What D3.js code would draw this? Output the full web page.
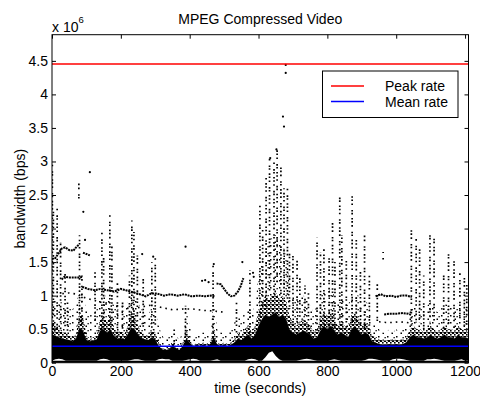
<!DOCTYPE html>
<html><head><meta charset="utf-8">
<script src="https://cdn.jsdelivr.net/npm/d3@7"></script>
<style>
body{margin:0;background:#fff}
svg{display:block}
text{font-family:"Liberation Sans",Arial,Helvetica,sans-serif;fill:#000}
</style>
</head><body><svg id="c" width="480" height="397"></svg>
<script>
// ---------- data (bandwidth in units of 1e6 bps, time in seconds) ----------
const title = "MPEG Compressed Video";
const xLabel = "time (seconds)";
const yLabel = "bandwidth (bps)";
const xTicks = [0, 200, 400, 600, 800, 1000, 1200];
const xTickLabels = ["0", "200", "400", "600", "800", "1000", "1200"];
const yTicks = [0, 0.5, 1, 1.5, 2, 2.5, 3, 3.5, 4, 4.5];
const yTickLabels = ["0", "0.5", "1", "1.5", "2", "2.5", "3", "3.5", "4", "4.5"];
const xDomain = [0, 1210];
const yDomain = [0, 4.89];
const peakRate = 4.455;
const meanRate = 0.247;
const legendLabels = ["Peak rate", "Mean rate"];

// dense band of small frames, sampled every 10 s
const bandStart = 0, bandStep = 10;
const scatterTop = [
 1.0,0.95,0.9,0.9,0.85,0.8,0.8,0.85,1.1,1.0,
 0.8,0.7,0.75,0.8,1.0,1.05,0.95,1.0,0.85,0.8,
 0.8,0.75,0.9,1.0,1.0,0.9,0.8,0.75,0.7,0.85,
 0.8,0.55,0.4,0.35,0.4,0.45,0.4,0.35,0.45,0.8,
 0.55,0.4,0.45,0.45,0.45,0.45,0.5,0.9,0.5,0.45,
 0.45,0.45,0.5,0.6,0.7,0.65,0.75,0.85,0.75,0.85,
 1.3,1.5,1.7,1.8,1.9,1.9,1.8,1.8,1.6,1.2,
 1.0,0.95,1.0,1.0,0.95,0.85,0.75,0.85,1.0,1.1,
 1.05,1.1,1.0,0.9,0.95,0.9,0.85,1.05,1.1,1.0,
 0.9,0.95,0.85,0.6,0.55,0.5,0.45,0.45,0.5,0.45,
 0.5,0.45,0.5,0.55,0.8,0.9,0.85,0.85,0.75,0.85,
 0.9,0.85,0.75,0.8,0.9,0.85,0.85,0.8,0.9,0.85,
 0.85,0.75];
const bandTop = [
 0.6,0.55,0.5,0.45,0.45,0.4,0.38,0.42,0.75,0.7,
 0.4,0.35,0.38,0.4,0.65,0.7,0.6,0.72,0.5,0.45,
 0.48,0.42,0.55,0.75,0.7,0.55,0.45,0.42,0.4,0.5,
 0.45,0.3,0.22,0.2,0.22,0.3,0.25,0.2,0.3,0.5,
 0.35,0.25,0.3,0.28,0.3,0.28,0.32,0.5,0.3,0.28,
 0.3,0.28,0.3,0.35,0.45,0.4,0.5,0.55,0.45,0.55,
 0.75,0.9,1.0,0.95,1.0,1.05,0.95,1.0,0.9,0.7,
 0.6,0.55,0.6,0.65,0.6,0.55,0.45,0.5,0.65,0.75,
 0.7,0.75,0.65,0.55,0.6,0.55,0.5,0.7,0.75,0.65,
 0.55,0.6,0.55,0.4,0.38,0.35,0.33,0.33,0.35,0.33,
 0.35,0.33,0.35,0.38,0.5,0.55,0.5,0.5,0.45,0.5,
 0.55,0.5,0.45,0.5,0.55,0.5,0.5,0.48,0.55,0.5,
 0.5,0.45];
const bandCore = [
 0.42,0.4,0.38,0.36,0.35,0.34,0.32,0.36,0.52,0.48,
 0.34,0.32,0.33,0.35,0.48,0.5,0.45,0.5,0.4,0.36,
 0.37,0.35,0.42,0.52,0.5,0.42,0.37,0.35,0.34,0.38,
 0.35,0.25,0.2,0.19,0.2,0.25,0.22,0.19,0.25,0.36,
 0.3,0.24,0.27,0.25,0.27,0.25,0.28,0.38,0.27,0.25,
 0.27,0.25,0.27,0.3,0.36,0.34,0.38,0.42,0.36,0.42,
 0.55,0.65,0.72,0.68,0.72,0.75,0.68,0.72,0.65,0.5,
 0.45,0.42,0.45,0.48,0.45,0.42,0.36,0.38,0.48,0.55,
 0.5,0.55,0.48,0.42,0.45,0.42,0.38,0.5,0.55,0.48,
 0.42,0.45,0.42,0.32,0.3,0.28,0.27,0.27,0.28,0.27,
 0.28,0.27,0.28,0.31,0.38,0.42,0.38,0.38,0.36,0.38,
 0.42,0.38,0.36,0.38,0.42,0.38,0.38,0.36,0.42,0.38,
 0.38,0.36];
const bandBottom = [
 0.03,0.05,0.06,0.05,0.03,0.03,0.03,0.03,0.03,0.03,
 0.03,0.03,0.03,0.03,0.05,0.06,0.05,0.03,0.03,0.03,
 0.03,0.03,0.03,0.04,0.05,0.05,0.04,0.03,0.03,0.03,
 0.03,0.05,0.06,0.05,0.05,0.03,0.03,0.03,0.03,0.04,
 0.05,0.06,0.05,0.03,0.03,0.03,0.03,0.04,0.05,0.03,
 0.03,0.03,0.03,0.03,0.03,0.03,0.03,0.05,0.06,0.05,
 0.03,0.03,0.08,0.15,0.17,0.1,0.05,0.03,0.03,0.03,
 0.03,0.03,0.04,0.05,0.06,0.05,0.04,0.03,0.03,0.03,
 0.03,0.04,0.05,0.04,0.03,0.03,0.03,0.03,0.03,0.03,
 0.03,0.04,0.06,0.06,0.05,0.04,0.03,0.03,0.03,0.05,
 0.06,0.06,0.05,0.04,0.03,0.03,0.03,0.03,0.03,0.05,
 0.05,0.06,0.05,0.04,0.03,0.03,0.03,0.03,0.04,0.05,
 0.03,0.03];
const floorLevel = 0.03;

// runs of frames that trace a level (dense and sparse)
const runA = [[8,1.55],[18,1.62],[28,1.7],[38,1.72],[50,1.68],[62,1.67],[70,1.72],[78,1.76]];
const runB = [[28,1.24],[36,1.28],[50,1.27],[65,1.27],[80,1.27],[88,1.28]];
const runC = [[90,1.64],[100,1.62],[110,1.6]];
const runP = [[88,1.13],[105,1.1],[125,1.08],[140,1.1],[160,1.08],[180,1.06],[200,1.1],[215,1.08],[235,1.05],[255,1.02],[272,0.99],[288,1.03],[305,1.03],[325,1.0],[345,1.02],[365,1.0],[385,1.02],[405,0.99],[425,1.0],[445,0.99],[462,1.0],[474,0.99]];
const runWave = [[478,1.18],[490,1.17],[500,1.1],[510,1.03],[520,0.99],[530,1.0],[540,1.06],[548,1.14],[556,1.26]];
const run97 = [[940,0.99],[955,1.02],[970,0.99],[985,1.0],[1000,0.98],[1015,1.0],[1030,1.0],[1045,0.98]];
const run72 = [[965,0.72],[980,0.73],[1000,0.73],[1020,0.74],[1035,0.73],[1045,0.71]];
const runL = [[30,1.03],[50,1.04],[75,1.02],[95,0.97],[115,0.94],[135,0.91],[155,0.88],[175,0.84],[200,0.84],[230,0.8],[260,0.83],[290,0.86],[320,0.82],[350,0.79],[380,0.8],[410,0.8],[440,0.78],[470,0.77],[505,0.75]];
const run60 = [[950,0.61],[970,0.6],[990,0.6],[1010,0.61],[1030,0.6],[1042,0.59]];
const denseRuns = [runA, runB, runC, runP, runWave, run97, run72];
const sparseRuns = [runL, run60];

// columns of scattered frames: [time, low, high]
const columns = [
 [1,0.4,2.95],[4,0.5,2.3],[15,0.5,2.3],[25,0.5,1.8],[38,0.5,1.35],[45,0.45,0.9],
 [78,2.4,2.68],[80,0.6,1.9],[87,0.5,1.3],[125,0.6,1.35],[145,0.4,1.95],[150,0.5,1.6],
 [168,0.45,2.2],[174,0.5,1.75],[190,0.4,1.2],[205,0.45,0.95],[225,0.5,1.3],[232,0.4,2.12],
 [238,0.5,1.95],[248,0.6,1.6],[265,0.5,1.3],[290,0.4,1.5],[300,0.5,1.58],[355,0.15,0.5],
 [388,0.2,0.85],[468,0.3,1.48],[536,0.45,0.9],[575,0.3,1.38],
 [604,0.6,2.35],[612,0.8,2.0],[622,0.8,2.77],[632,1.0,3.05],[645,1.0,3.0],[654,1.2,3.18],
 [665,1.0,2.92],[674,1.0,2.6],[684,0.9,2.6],[690,0.8,1.7],
 [700,0.5,1.63],[712,0.6,1.55],[720,0.6,1.3],[735,0.35,1.15],[745,0.4,1.05],
 [770,0.4,1.87],[780,0.5,1.65],[790,0.45,1.7],[805,0.4,1.6],[815,0.45,2.12],[822,0.5,1.5],
 [836,0.5,2.5],[842,0.45,1.9],[855,0.5,1.55],[872,0.55,2.52],[884,0.6,1.87],[896,0.5,1.4],
 [908,0.5,1.9],[922,0.55,1.3],[945,0.6,1.18],[962,1.53,1.65],
 [1044,0.5,2.02],[1058,0.6,1.87],[1068,0.6,1.75],[1080,0.5,1.3],[1098,0.6,1.9],[1110,0.6,1.85],
 [1138,0.5,1.3],[1152,0.55,1.65],[1168,0.5,1.58],[1185,0.6,1.35],[1198,0.55,1.3],[1205,0.5,1.2]
];

// isolated frames: [time, value]
const isolated = [
 [91,2.25],[96,1.83],[110,2.84],[262,1.62],[294,1.58],[388,1.73],[436,1.22],[445,1.23],[455,1.2],
 [470,1.47],[553,1.5],[584,1.34],[586,1.28],[634,3.05],[652,3.18],[671,3.67],[674,3.52],
 [679,4.44],[679,4.32]
];

// ---------- drawing ----------
const svg = d3.select("#c");
const L = 52, R = 468.5, T = 34.7, B = 362.7;
const x = d3.scaleLinear().domain(xDomain).range([L, R]);
const y = d3.scaleLinear().domain(yDomain).range([B, T]);

const defs = svg.append("defs");
defs.append("clipPath").attr("id", "clip").append("rect")
  .attr("x", L).attr("y", T).attr("width", R - L).attr("height", B - T);
const pat = defs.append("pattern").attr("id", "dots").attr("width", 4).attr("height", 4)
  .attr("patternUnits", "userSpaceOnUse");
pat.append("rect").attr("x", 0).attr("y", 0).attr("width", 2).attr("height", 2).attr("fill", "#000");
pat.append("rect").attr("x", 2).attr("y", 2).attr("width", 1.6).attr("height", 1.6).attr("fill", "#000");
pat.append("rect").attr("x", 2.5).attr("y", 0).attr("width", 1.2).attr("height", 1.2).attr("fill", "#000");
const pat2 = defs.append("pattern").attr("id", "sparse").attr("width", 9).attr("height", 7)
  .attr("patternUnits", "userSpaceOnUse");
pat2.append("rect").attr("x", 0).attr("y", 0).attr("width", 1.5).attr("height", 1.5).attr("fill", "#000");
pat2.append("rect").attr("x", 4.5).attr("y", 3.5).attr("width", 1.5).attr("height", 1.5).attr("fill", "#000");
pat2.append("rect").attr("x", 6.5).attr("y", 1).attr("width", 1.3).attr("height", 1.3).attr("fill", "#000");

const plot = svg.append("g").attr("clip-path", "url(#clip)");
const bandT = bandTop.map((_, i) => bandStart + i * bandStep);
const ax = (d, i) => x(bandT[i]);

plot.append("path")
  .attr("d", d3.area().x(ax).y0((d, i) => y(bandTop[i])).y1(d => y(d))(scatterTop))
  .attr("fill", "url(#sparse)");
plot.append("path")
  .attr("d", d3.area().x(ax).y0(y(0)).y1(y(floorLevel))(bandTop))
  .attr("fill", "#000");
plot.append("path")
  .attr("d", d3.area().x(ax).y0((d, i) => y(bandBottom[i])).y1((d, i) => y(bandCore[i]))(bandTop))
  .attr("fill", "#000");
plot.append("path")
  .attr("d", d3.area().x(ax).y0((d, i) => y(bandCore[i])).y1(d => y(d))(bandTop))
  .attr("fill", "url(#dots)");

plot.selectAll("line.col").data(columns).join("line").attr("class", "col")
  .attr("x1", d => x(d[0])).attr("x2", d => x(d[0]))
  .attr("y1", d => y(d[1])).attr("y2", d => y(d[2]))
  .attr("stroke", "#000").attr("stroke-width", 1.7)
  .attr("stroke-dasharray", "1.6 1.6 1.6 3.5 1.6 1.2 1.6 5 1.6 2.4")
  .attr("stroke-dashoffset", (d, i) => (i * 3.7) % 17);

const line = d3.line().x(d => x(d[0])).y(d => y(d[1]));
plot.selectAll("path.dense").data(denseRuns).join("path").attr("class", "dense")
  .attr("d", line).attr("fill", "none").attr("stroke", "#000")
  .attr("stroke-width", 2).attr("stroke-dasharray", "2 0.8");
plot.selectAll("path.sparse").data(sparseRuns).join("path").attr("class", "sparse")
  .attr("d", line).attr("fill", "none").attr("stroke", "#000")
  .attr("stroke-width", 1.6).attr("stroke-dasharray", "1.6 4");

plot.selectAll("circle.pt").data(isolated).join("circle").attr("class", "pt")
  .attr("cx", d => x(d[0])).attr("cy", d => y(d[1])).attr("r", 1.1).attr("fill", "#000");

// peak and mean lines
svg.append("line").attr("x1", x(xDomain[0])).attr("x2", x(xDomain[1]))
  .attr("y1", y(peakRate)).attr("y2", y(peakRate)).attr("stroke", "#ff0000").attr("stroke-width", 1.5);
svg.append("line").attr("x1", x(xDomain[0])).attr("x2", x(xDomain[1]))
  .attr("y1", y(meanRate)).attr("y2", y(meanRate)).attr("stroke", "#0000ff").attr("stroke-width", 1.5);

// axes (MATLAB style box, ticks inward)
const fs = 14;
function styleAxis(g) {
  g.select(".domain").remove();
  g.selectAll("line").attr("stroke", "#000");
  g.selectAll("text").attr("font-size", fs).attr("fill", "#000")
    .style("font-family", '"Liberation Sans",Arial,sans-serif');
}
svg.append("g").attr("transform", `translate(0,${B})`)
  .call(d3.axisBottom(x).tickValues(xTicks).tickFormat((d, i) => xTickLabels[i]).tickSize(-4).tickPadding(3.5))
  .call(styleAxis);
svg.append("g").attr("transform", `translate(0,${T})`)
  .call(d3.axisTop(x).tickValues(xTicks).tickFormat("").tickSize(-4)).call(styleAxis);
svg.append("g").attr("transform", `translate(${L},0)`)
  .call(d3.axisLeft(y).tickValues(yTicks).tickFormat((d, i) => yTickLabels[i]).tickSize(-4).tickPadding(4))
  .call(styleAxis);
svg.append("g").attr("transform", `translate(${R},0)`)
  .call(d3.axisRight(y).tickValues(yTicks).tickFormat("").tickSize(-4)).call(styleAxis);
svg.append("rect").attr("x", L).attr("y", T).attr("width", R - L).attr("height", B - T)
  .attr("fill", "none").attr("stroke", "#000").attr("stroke-width", 1);

// exponent label
const ex = svg.append("text").attr("x", L).attr("y", 31.5).attr("font-size", fs);
ex.append("tspan").text("x 10");
ex.append("tspan").attr("font-size", 9.5).attr("dy", -9).text("6");

// title and labels
svg.append("text").attr("x", (L + R) / 2).attr("y", 23.5).attr("text-anchor", "middle")
  .attr("font-size", fs).text(title);
svg.append("text").attr("x", (L + R) / 2).attr("y", 392.5).attr("text-anchor", "middle")
  .attr("font-size", fs).text(xLabel);
svg.append("text").attr("transform", `translate(25,${(T + B) / 2}) rotate(-90)`)
  .attr("text-anchor", "middle").attr("font-size", fs).text(yLabel);

// legend
const lg = svg.append("g");
lg.append("rect").attr("x", 322.5).attr("y", 71).attr("width", 135.5).attr("height", 46.5)
  .attr("fill", "#fff").attr("stroke", "#000").attr("stroke-width", 1);
const legendColors = ["#ff0000", "#0000ff"];
legendLabels.forEach((lab, i) => {
  const yy = 86 + i * 15.5;
  lg.append("line").attr("x1", 331).attr("x2", 364).attr("y1", yy).attr("y2", yy)
    .attr("stroke", legendColors[i]).attr("stroke-width", 1.5);
  lg.append("text").attr("x", 385).attr("y", yy + 5).attr("font-size", fs).text(lab);
});
</script></body></html>
